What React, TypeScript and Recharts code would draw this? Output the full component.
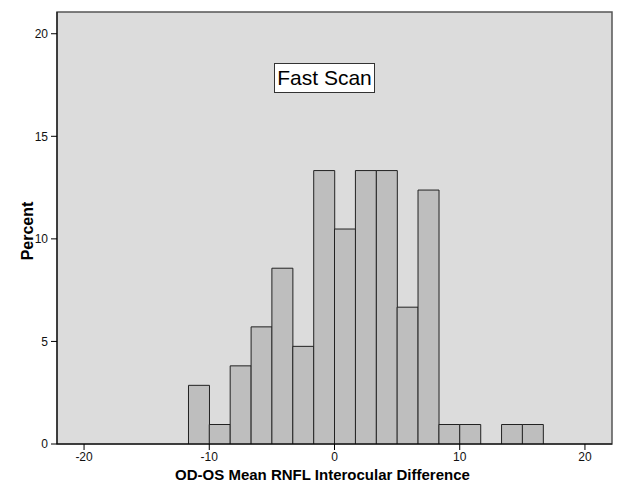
import React from "react";
import { BarChart, Bar, XAxis, YAxis, CartesianGrid, ReferenceArea } from "recharts";

// bin midpoints (bin width ~1.67) and percent of cases per bin
const BIN_MIDS = [-10.83, -9.17, -7.5, -5.83, -4.17, -2.5, -0.83, 0.83, 2.5, 4.17, 5.83, 7.5, 9.17, 10.83, 12.5, 14.17, 15.83];
const PERCENTS = [2.86, 0.95, 3.81, 5.71, 8.57, 4.76, 13.33, 10.48, 13.33, 13.33, 6.67, 12.38, 0.95, 0.95, 0, 0.95, 0.95];

const X_TICKS = [-20, -10, 0, 10, 20];
const Y_TICKS = [0, 5, 10, 15, 20];
const X_DOMAIN: [number, number] = [-22.16, 22.16];
const Y_DOMAIN: [number, number] = [0, 21.06];

const data = BIN_MIDS.map((mid, i) => ({ mid, pct: PERCENTS[i] }));

const FONT = "'Liberation Sans', Arial, sans-serif";
const tick = { fill: "#111", fontSize: 12, fontFamily: FONT };

export default function App() {
  return (
    <div style={{ position: "absolute", left: 0, top: 0, width: 623, height: 499, background: "#fff" }}>
      <BarChart
        width={623}
        height={499}
        data={data}
        barCategoryGap={0}
        margin={{ top: 12, right: 11, left: 0, bottom: 10 }}
      >
        <CartesianGrid fill="#dcdcdc" horizontal={false} vertical={false} />
        <ReferenceArea
          x1={X_DOMAIN[0]}
          x2={X_DOMAIN[1]}
          y1={Y_DOMAIN[0]}
          y2={Y_DOMAIN[1]}
          fill="none"
          stroke="#555"
          strokeWidth={1.5}
          fillOpacity={0}
          ifOverflow="extendDomain"
        />
        <XAxis
          type="number"
          dataKey="mid"
          domain={X_DOMAIN}
          ticks={X_TICKS}
          allowDataOverflow
          height={45}
          tickSize={6}
          tickMargin={2}
          tick={tick}
          axisLine={{ stroke: "#000" }}
          tickLine={{ stroke: "#000" }}
          label={{
            value: "OD-OS Mean RNFL Interocular Difference",
            position: "center",
            dx: -12,
            dy: 8,
            style: { fontFamily: FONT, fontSize: 15, fontWeight: "bold", fill: "#000" },
          }}
        />
        <YAxis
          type="number"
          domain={Y_DOMAIN}
          ticks={Y_TICKS}
          allowDataOverflow
          width={57}
          tickSize={6}
          tickMargin={3}
          tick={tick}
          axisLine={{ stroke: "#000" }}
          tickLine={{ stroke: "#000" }}
          label={{
            value: "Percent",
            angle: -90,
            position: "center",
            dx: -1,
            dy: 3,
            style: { fontFamily: FONT, fontSize: 16, fontWeight: "bold", fill: "#000" },
          }}
        />
        <Bar dataKey="pct" fill="#bebebe" stroke="#222" strokeWidth={1} isAnimationActive={false} />
      </BarChart>
      <div
        style={{
          position: "absolute",
          left: 274,
          top: 63,
          width: 101,
          height: 30,
          boxSizing: "border-box",
          border: "1px solid #333",
          background: "#fff",
          display: "flex",
          alignItems: "center",
          justifyContent: "center",
          fontFamily: FONT,
          fontSize: 21,
          color: "#000",
        }}
      >
        Fast Scan
      </div>
    </div>
  );
}
